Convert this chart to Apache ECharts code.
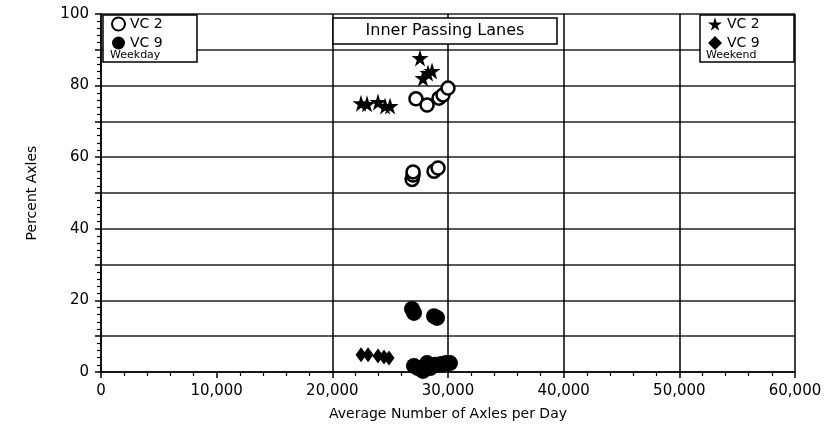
<!DOCTYPE html>
<html>
<head>
<meta charset="utf-8">
<script src="https://cdn.jsdelivr.net/npm/echarts@6/dist/echarts.min.js"></script>
<style>
  html, body { margin: 0; padding: 0; background: #fff; }
  #chart { width: 825px; height: 437px; }
</style>
</head>
<body>
<div id="chart"></div>
<script>
// data: [axles per day, percent axles]
var weekdayVC2 = [[27230, 76.3], [28190, 74.6], [29220, 76.5], [29570, 77.4], [30000, 79.3],
                  [26900, 53.8], [26980, 55.0], [26980, 55.9], [28790, 56.1], [29140, 57.0]];
var weekdayVC9 = [[26890, 17.6], [27060, 16.5], [28790, 15.6], [29050, 15.1],
                  [27060, 1.7], [27400, 1.1], [27840, 0.3], [28190, 2.5], [28450, 1.1],
                  [28880, 2.0], [29400, 2.2], [29830, 2.5], [30170, 2.5]];
var weekendVC2 = [[22480, 75.1], [23000, 74.9], [23950, 75.4], [24560, 74.3], [24990, 74.3],
                  [27580, 87.7], [27840, 82.1], [28270, 83.5], [28620, 84.1]];
var weekendVC9 = [[22480, 4.8], [23090, 4.8], [23950, 4.5], [24470, 4.2], [24900, 3.9]];

var xLabels = ['0', '10,000', '20,000', '30,000', '40,000', '50,000', '60,000'];
var yLabels = ['0', '20', '40', '60', '80', '100'];

var FONT = 'DejaVu Sans';
var STAR = 'path://M50,0 L61,35 L98,35 L68,57 L79,91 L50,70 L21,91 L32,57 L2,35 L39,35 Z';

(function () {
    var myChart = echarts.init(document.getElementById('chart'));
    var legendText = { fontSize: 14, lineHeight: 16, color: '#000', fontFamily: FONT };
    var option = {
        backgroundColor: '#fff',
        animation: false,
        textStyle: { fontFamily: FONT, color: '#000' },
        grid: { left: 101, right: 30, top: 14, bottom: 65 },
        xAxis: {
            type: 'value', min: 0, max: 60000, interval: 10000,
            name: 'Average Number of Axles per Day',
            nameLocation: 'middle', nameGap: 35,
            nameTextStyle: { fontSize: 14, color: '#000', fontFamily: FONT },
            axisLine: { lineStyle: { color: '#000', width: 1.5 } },
            axisTick: { show: true, length: 6, lineStyle: { color: '#000', width: 1.5 } },
            minorTick: { show: true, splitNumber: 5, length: 4, lineStyle: { color: '#000', width: 1.2 } },
            axisLabel: {
                fontSize: 15, color: '#000', margin: 12,
                formatter: function (v) { return xLabels[Math.round(v / 10000)]; }
            },
            splitLine: { show: true, lineStyle: { width: 1.5,
                color: ['#000', 'rgba(0,0,0,0)', '#000', '#000', '#000', '#000', '#000'] } }
        },
        yAxis: {
            type: 'value', min: 0, max: 100, interval: 10,
            name: 'Percent Axles',
            nameLocation: 'middle', nameGap: 62, nameRotate: 90,
            nameTextStyle: { fontSize: 14, color: '#000', fontFamily: FONT },
            axisLine: { show: true, lineStyle: { color: '#000', width: 1.5 } },
            axisTick: { show: true, length: 6, lineStyle: { color: '#000', width: 1.5 } },
            minorTick: { show: true, splitNumber: 5, length: 4, lineStyle: { color: '#000', width: 1.2 } },
            axisLabel: {
                fontSize: 15, color: '#000', margin: 12,
                formatter: function (v) { return v % 20 === 0 ? yLabels[v / 20] : ''; }
            },
            splitLine: { show: true, lineStyle: { color: '#222', width: 1.5 } }
        },
        legend: [{
            data: [{ name: 'wd2', icon: 'circle' }, { name: 'wd9', icon: 'circle' }],
            orient: 'vertical', left: 106, top: 16, itemGap: 3, padding: [0, 5], z: 20,
            itemWidth: 13, itemHeight: 13, textStyle: legendText,
            formatter: function (n) { return n === 'wd2' ? 'VC 2' : 'VC 9'; }
        }, {
            data: [{ name: 'we2', icon: STAR }, { name: 'we9', icon: 'diamond' }],
            orient: 'vertical', left: 703, top: 16, itemGap: 3, padding: [0, 5], z: 20,
            itemWidth: 14, itemHeight: 14, textStyle: legendText,
            formatter: function (n) { return n === 'we2' ? 'VC 2' : 'VC 9'; }
        }],
        graphic: [
            { type: 'rect', shape: { x: 103, y: 15, width: 94, height: 47 },
              style: { fill: '#fff', stroke: '#000', lineWidth: 1.5 }, z: 1 },
            { type: 'text', x: 110, y: 50, style: { text: 'Weekday', fontSize: 11, fill: '#000', fontFamily: FONT }, z: 21 },
            { type: 'rect', shape: { x: 700, y: 15, width: 94, height: 47 },
              style: { fill: '#fff', stroke: '#000', lineWidth: 1.5 }, z: 1 },
            { type: 'text', x: 706, y: 50, style: { text: 'Weekend', fontSize: 11, fill: '#000', fontFamily: FONT }, z: 21 },
            { type: 'rect', shape: { x: 333, y: 18, width: 224, height: 26 },
              style: { fill: '#fff', stroke: '#000', lineWidth: 1.5 }, z: 1 },
            { type: 'text', x: 445, y: 31, style: { text: 'Inner Passing Lanes', fontSize: 16, fill: '#000',
              fontFamily: FONT, align: 'center', verticalAlign: 'middle' }, z: 21 }
        ],
        series: [{
            name: 'wd2', type: 'scatter', data: weekdayVC2, symbol: 'circle', symbolSize: 13,
            itemStyle: { color: '#fff', borderColor: '#000', borderWidth: 2.5, opacity: 1 }
        }, {
            name: 'wd9', type: 'scatter', data: weekdayVC9, symbol: 'circle', symbolSize: 16,
            itemStyle: { color: '#000', opacity: 1 }
        }, {
            name: 'we2', type: 'scatter', data: weekendVC2, symbol: STAR, symbolSize: 17,
            itemStyle: { color: '#000', opacity: 1 }
        }, {
            name: 'we9', type: 'scatter', data: weekendVC9, symbol: 'diamond', symbolSize: [11, 15],
            itemStyle: { color: '#000', opacity: 1 }
        }]
    };
    myChart.setOption(option);
})();
</script>
</body>
</html>
